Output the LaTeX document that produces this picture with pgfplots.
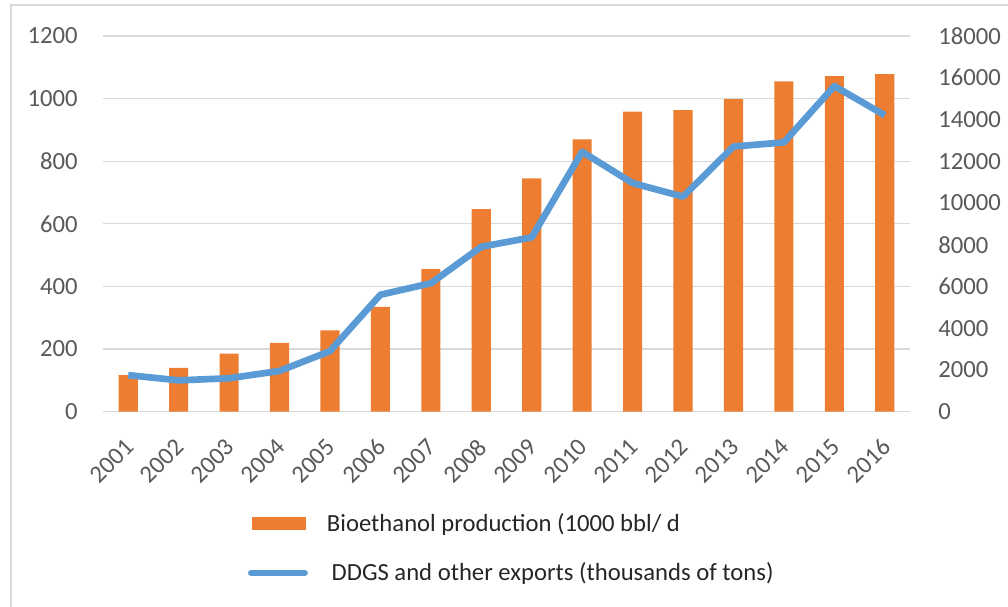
\documentclass[border=0pt]{standalone}
\usepackage{pgfplots}
\pgfplotsset{compat=1.18}
\usepackage{fontspec}
\setmainfont{Carlito}

\definecolor{barorange}{HTML}{ED7D31}
\definecolor{lineblue}{HTML}{5B9BD5}
\definecolor{gridgray}{HTML}{D9D9D9}
\definecolor{ticktext}{HTML}{595959}
\definecolor{legtext}{HTML}{262626}

% Bioethanol production (1000 bbl/d)
\pgfplotstableread{
idx prod
0  117
1  140
2  185
3  220
4  260
5  335
6  455
7  647
8  745
9  870
10 958
11 963
12 998
13 1055
14 1072
15 1078
}\prodtable

% DDGS and other exports (thousands of tons)
\pgfplotstableread{
idx exports
0  1750
1  1500
2  1600
3  1950
4  2900
5  5600
6  6150
7  7900
8  8350
9  12450
10 10950
11 10300
12 12700
13 12900
14 15600
15 14200
}\exporttable

\pgfplotsset{
  common/.style={
    scale only axis,
    width=605.25pt, height=281.8pt,
    at={(77.25pt,146.5pt)}, anchor=south west,
    xmin=-0.5, xmax=15.5,
    enlargelimits=false,
    axis line style={draw=none},
    major tick length=0pt,
    tick style={draw=none},
    font=\fontsize{18.5}{22}\selectfont,
    /pgf/number format/assume math mode=true,
    /pgf/number format/1000 sep={},
    scaled y ticks=false,
    ticklabel style={text=ticktext},
  },
}

\begin{document}
\begin{tikzpicture}
\useasboundingbox (0,0) rectangle (756pt,455.25pt);
% chart frame (left and top edges)
\draw[gridgray, line width=1.5pt] (8.25pt,0pt) -- (8.25pt,451.5pt) -- (756pt,451.5pt);

\begin{axis}[
  common,
  ymin=0, ymax=1200,
  ytick={0,200,...,1200},
  ymajorgrids,
  grid style={gridgray, line width=1pt},
  xtick={0,...,15},
  xticklabels={2001,2002,2003,2004,2005,2006,2007,2008,2009,2010,2011,2012,2013,2014,2015,2016},
  xticklabel style={yshift=-19pt, xshift=-3.5pt, rotate=45, anchor=north east, inner sep=0pt},
  yticklabel style={anchor=east, inner sep=0pt, xshift=-18.75pt},
  legend cell align=left,
  legend style={
    draw=none, fill=none, inner sep=0pt,
    at={(axis description cs:0,0)}, anchor=north west,
    xshift=108.5pt, yshift=-76.2pt,
    row sep=22pt,
    nodes={inner sep=0pt, text=legtext},
    font=\fontsize{18.5}{22}\selectfont,
    /tikz/every odd column/.append style={column sep=14.3pt},
  },
]
\addplot[ybar, bar width=0.38, fill=barorange, draw=none,
  legend image code/.code={\fill[barorange] (0pt,-4.9pt) rectangle (40.5pt,4.9pt);}]
  table[x=idx, y=prod] {\prodtable};
\addlegendentry{Bioethanol production (1000 bbl/ d}
\addlegendimage{legend image code/.code={\draw[lineblue, line width=5pt, line cap=round] (-0.8pt,0pt) -- (39.2pt,0pt);}}
\addlegendentry{\hspace*{3.5pt}DDGS and other exports (thousands of tons)}
\end{axis}

\begin{axis}[
  common,
  ymin=0, ymax=18000,
  ytick={0,2000,...,18000},
  axis y line*=right,
  axis x line=none,
  yticklabel style={anchor=west, inner sep=0pt, xshift=21pt},
]
\addplot[lineblue, line width=5pt, line join=round, mark=none]
  table[x=idx, y=exports] {\exporttable};
\end{axis}
\end{tikzpicture}
\end{document}
